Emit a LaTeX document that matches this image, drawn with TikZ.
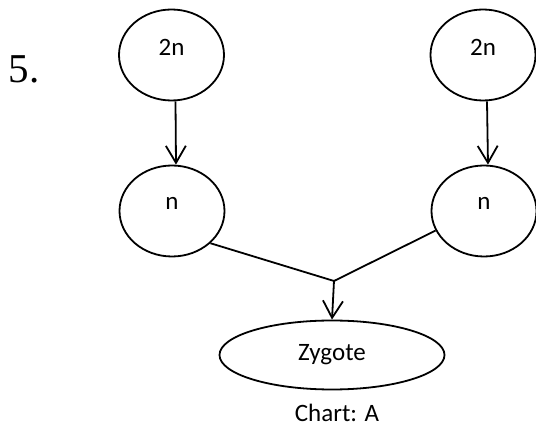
\documentclass[tikz,border=0pt]{standalone}
\usepackage{fontspec}
\setmainfont{Liberation Serif}
\newfontfamily\chartfont{Carlito}
\usetikzlibrary{shapes.geometric,arrows.meta}
\begin{document}
\begin{tikzpicture}[x=1pt, y=-1pt, line width=1.8pt, line join=round, >={Straight Barb[length=17pt,width=20pt]},
	font=\chartfont\fontsize{25}{27}\selectfont,
	cell/.style={draw, ellipse, inner sep=0pt, minimum width=105pt, minimum height=91pt, text depth=15pt}]
	\useasboundingbox (0,0) rectangle (536,427);
	\node[anchor=base west, inner sep=0pt, font=\rmfamily\fontsize{41}{41}\selectfont] (num) at (8,83) {5.};
	\node[cell] (dl) at (171.5,55) {2n};
	\node[cell] (dr) at (483,55) {2n};
	\node[cell] (hl) at (172,211) {n};
	\node[cell] (hr) at (484,211) {n};
	\node[draw, ellipse, inner sep=0pt, minimum width=225pt, minimum height=69pt] (z) at (332,355) {Zygote};
	\node[anchor=base, inner sep=0pt] (chart) at (337,422) {Chart: A};
	\path (334,281) coordinate (m);
	\draw[->] ([xshift=4pt]dl.south) -- ([xshift=4pt]hl.north);
	\draw[->] ([xshift=4pt]dr.south) -- ([xshift=4pt]hr.north);
	\draw (hl.-40) -- (m) -- (hr.-158);
	\draw[->] (m) -- (z.north);
\end{tikzpicture}
\end{document}
